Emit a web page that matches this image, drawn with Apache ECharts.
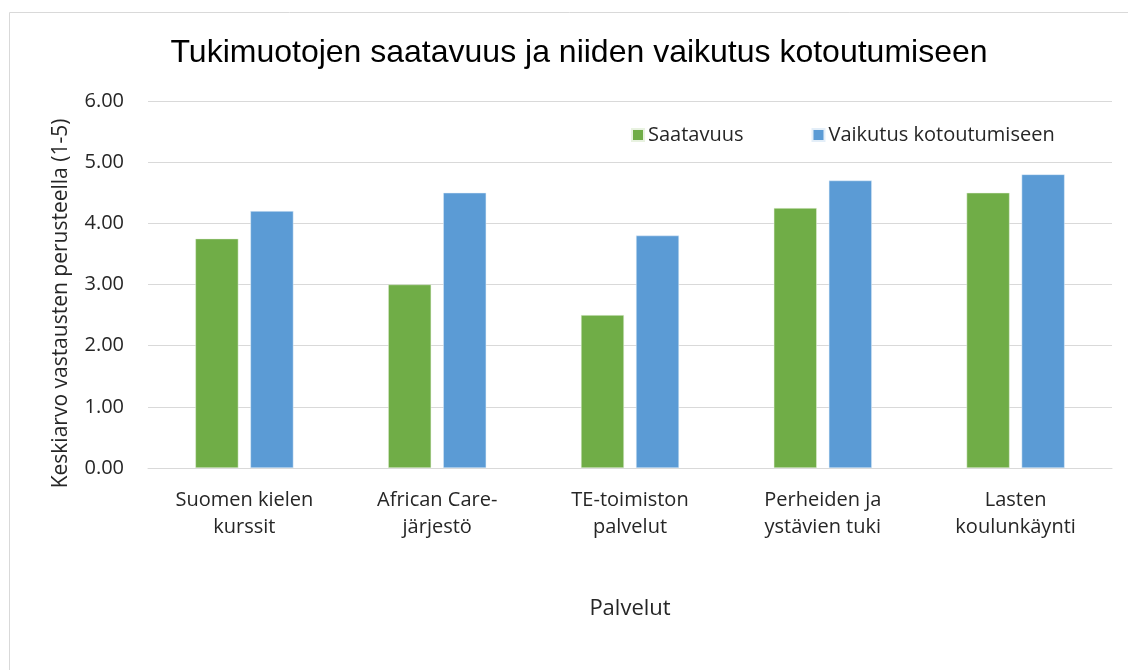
<!DOCTYPE html>
<html>
<head>
<meta charset="utf-8">
<script src="https://cdn.jsdelivr.net/npm/echarts@6/dist/echarts.min.js"></script>
<style>
  html, body { margin: 0; padding: 0; background: #fff; }
  #chart { width: 1128px; height: 670px; }
</style>
</head>
<body>
<div id="chart"></div>
<script>
const categories = [
  'Suomen kielen\nkurssit',
  'African Care-\njärjestö',
  'TE-toimiston\npalvelut',
  'Perheiden ja\nystävien tuki',
  'Lasten\nkoulunkäynti'
];
const saatavuus = [3.75, 3.0, 2.5, 4.25, 4.5];
const vaikutus = [4.2, 4.5, 3.8, 4.7, 4.8];

const labelFont = '"Open Sans", "Noto Sans", sans-serif';
const textColor = '#262626';

const chart = echarts.init(document.getElementById('chart'));

chart.setOption({
  animation: false,
  graphic: [
    {
      type: 'rect',
      shape: { x: 9.5, y: 12.5, width: 1130, height: 670 },
      style: { fill: 'none', stroke: '#d9d9d9', lineWidth: 1 },
      silent: true
    }
  ],
  title: {
    text: 'Tukimuotojen saatavuus ja niiden vaikutus kotoutumiseen',
    left: 574,
    textAlign: 'center',
    top: 32,
    textStyle: {
      fontFamily: '"Liberation Sans", Arial, sans-serif',
      fontSize: 32,
      fontWeight: 'normal',
      color: '#000'
    }
  },
  legend: {
    top: 120,
    left: 626,
    itemWidth: 12,
    itemHeight: 12,
    itemGap: 68,
    icon: 'rect',
    textStyle: { fontFamily: labelFont, fontSize: 20, color: textColor, padding: [0, 0, 0, -1] },
    data: ['Saatavuus', 'Vaikutus kotoutumiseen']
  },
  grid: { left: 148, right: 16, top: 101, bottom: 202 },
  xAxis: {
    type: 'category',
    data: categories,
    name: 'Palvelut',
    nameLocation: 'middle',
    nameGap: 130,
    nameTextStyle: { fontFamily: labelFont, fontSize: 22, color: textColor },
    axisLine: { lineStyle: { color: '#d9d9d9', width: 1 } },
    axisTick: { show: false },
    axisLabel: {
      fontFamily: labelFont,
      fontSize: 20,
      color: textColor,
      lineHeight: 27,
      margin: 19,
      interval: 0
    }
  },
  yAxis: {
    type: 'value',
    min: 0,
    max: 6,
    interval: 1,
    name: 'Keskiarvo vastausten perusteella (1-5)',
    nameLocation: 'middle',
    nameGap: 76,
    nameTextStyle: { fontFamily: labelFont, fontSize: 21, color: textColor, padding: [0, 38, 0, 0] },
    axisLine: { show: false },
    axisTick: { show: false },
    axisLabel: {
      fontFamily: labelFont,
      fontSize: 20,
      color: textColor,
      margin: 24,
      formatter: (v) => v.toFixed(2)
    },
    splitLine: { lineStyle: { color: '#d9d9d9', width: 1 } }
  },
  series: [
    {
      name: 'Saatavuus',
      type: 'bar',
      data: saatavuus,
      barWidth: '22.3%',
      barGap: '28%',
      itemStyle: { color: '#70ad47', borderColor: '#e8f2e0', borderWidth: 0.5 }
    },
    {
      name: 'Vaikutus kotoutumiseen',
      type: 'bar',
      data: vaikutus,
      barWidth: '22.3%',
      itemStyle: { color: '#5b9bd5', borderColor: '#e3eef8', borderWidth: 0.5 }
    }
  ]
});
</script>
</body>
</html>
